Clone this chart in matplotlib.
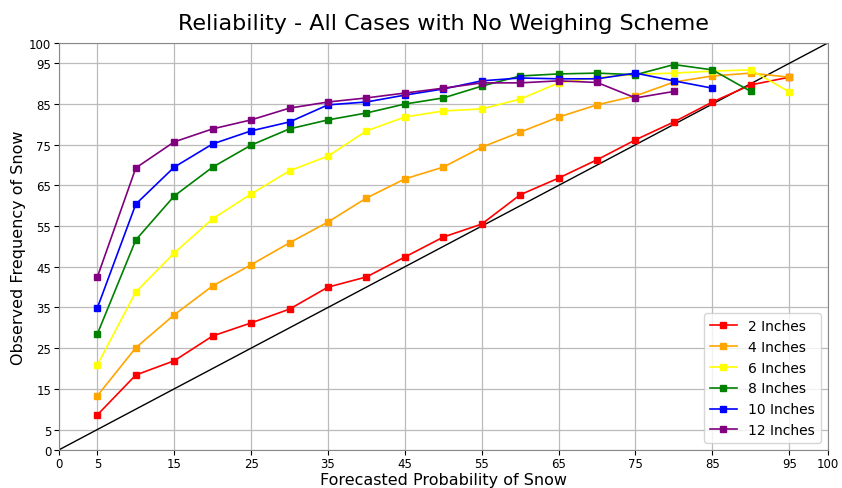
import matplotlib
matplotlib.use("Agg")
import matplotlib.pyplot as plt
import numpy as np

probs = [5, 10, 15, 20, 25, 30, 35, 40, 45, 50, 55, 60, 65, 70, 75, 80, 85, 90, 95]

in2 = [8.6, 18.4, 21.9, 28.0, 31.2, 34.6, 40.0, 42.5, 47.4, 52.3, 55.5, 62.7, 66.8, 71.3, 76.2, 80.6, 85.5, 89.7, 91.6]
in4 = [13.3, 25.1, 33.2, 40.3, 45.5, 50.9, 56.0, 61.9, 66.6, 69.5, 74.4, 78.1, 81.8, 84.8, 87.0, 90.4, 91.9, 92.6, 91.6]
in6 = [20.9, 38.8, 48.4, 56.8, 62.9, 68.6, 72.2, 78.4, 81.8, 83.3, 83.8, 86.2, 90.2, 91.5, 92.3, 92.6, 93.1, 93.4, 88.0]
in8 = [28.5, 51.6, 62.4, 69.5, 74.9, 78.9, 81.1, 82.8, 85.0, 86.5, 89.4, 91.9, 92.4, 92.6, 92.2, 94.7, 93.4, 88.1]
in10 = [34.9, 60.4, 69.5, 75.2, 78.4, 80.6, 84.8, 85.5, 87.2, 88.7, 90.7, 91.4, 91.2, 91.2, 92.6, 90.7, 88.9]
in12 = [42.5, 69.3, 75.7, 78.9, 81.1, 84.0, 85.5, 86.5, 87.7, 88.9, 90.2, 90.2, 90.7, 90.3, 86.5, 88.1]

series = [("2 Inches", in2, "red"), ("4 Inches", in4, "orange"), ("6 Inches", in6, "yellow"),
          ("8 Inches", in8, "green"), ("10 Inches", in10, "blue"), ("12 Inches", in12, "purple")]

ticks = [0, 5, 15, 25, 35, 45, 55, 65, 75, 85, 95, 100]

fig = plt.figure(figsize=(8.42, 4.89), dpi=100)
ax = fig.add_axes([0.070, 0.078, 0.913, 0.832])

ax.plot([0, 100], [0, 100], color="black", linewidth=1)
for name, vals, col in series:
    ax.plot(probs[:len(vals)], vals, color=col, marker="s", markersize=5, linewidth=1.2, label=name)

ax.set_xlim(0, 100)
ax.set_ylim(0, 100)
ax.set_xticks(ticks)
ax.set_yticks(ticks)
ax.tick_params(labelsize=8.5, pad=2)
ax.grid(True, color="#bbbbbb", linewidth=0.9)
ax.set_axisbelow(True)
for s in ax.spines.values():
    s.set_color("#888888")

ax.set_title("Reliability - All Cases with No Weighing Scheme", fontsize=16, pad=10)
ax.set_xlabel("Forecasted Probability of Snow", fontsize=11.5, labelpad=1)
ax.set_ylabel("Observed Frequency of Snow", fontsize=11.5, labelpad=2)
ax.legend(loc="lower right", fontsize=10)

fig.savefig("out.png", dpi=100)
